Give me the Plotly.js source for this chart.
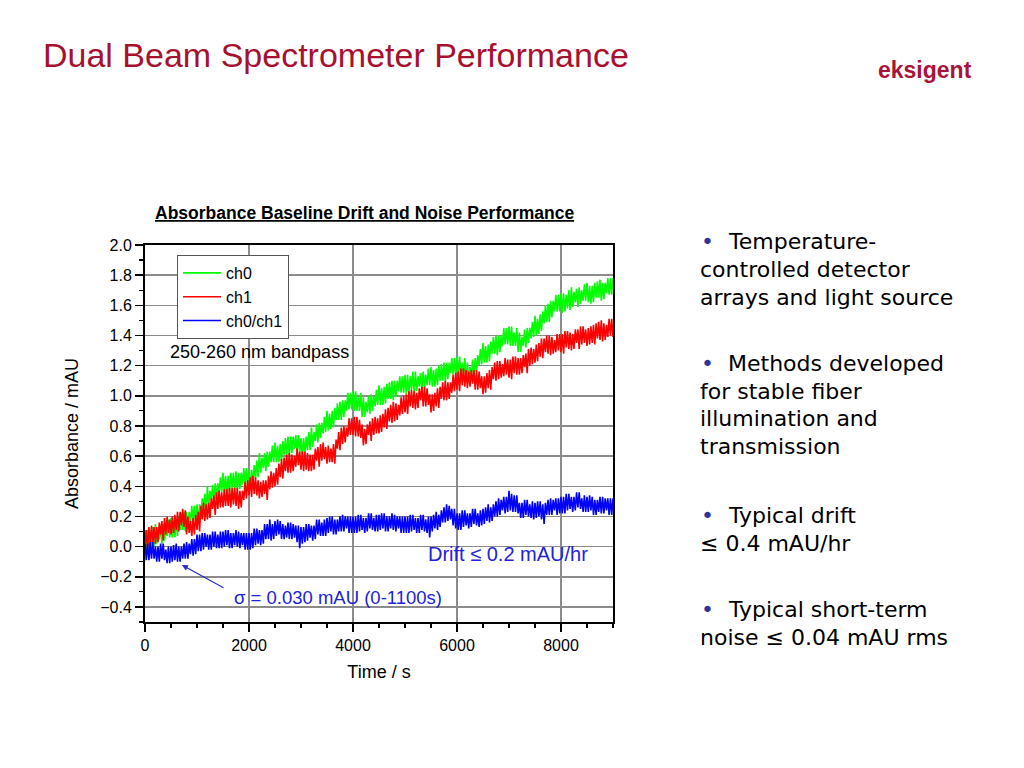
<!DOCTYPE html>
<html>
<head>
<meta charset="utf-8">
<script src="https://cdn.plot.ly/plotly-3.0.1.min.js"></script>
<style>html,body{margin:0;padding:0;background:#fff;}#chart{width:1024px;height:768px;}</style>
</head>
<body>
<div id="chart"></div>
<script>
// ---- Data, one sample every 25 s from t = 0 s ----
const seriesNames = ['ch0', 'ch1', 'ch0/ch1'];
const timeStartSec = 0;
const sampleStepSec = 25;

const ch0 = [
 0.11,-0.02,0.11,0.00, 0.10,0.01,0.13,0.00, 0.15,0.02,0.12,0.05, 0.14,0.02,0.15,0.04, 0.14,0.07,0.18,0.06,
 0.19,0.06,0.17,0.06, 0.18,0.07,0.20,0.11, 0.22,0.11,0.23,0.10, 0.23,0.12,0.23,0.16, 0.27,0.16,0.27,0.16,
 0.28,0.15,0.28,0.19, 0.32,0.23,0.35,0.23, 0.40,0.27,0.37,0.31, 0.41,0.29,0.42,0.32, 0.42,0.35,0.46,0.36,
 0.49,0.36,0.47,0.35, 0.47,0.36,0.49,0.39, 0.49,0.38,0.50,0.37, 0.49,0.38,0.49,0.41, 0.52,0.41,0.52,0.40,
 0.51,0.38,0.51,0.42, 0.54,0.45,0.57,0.46, 0.62,0.49,0.59,0.52, 0.62,0.50,0.63,0.53, 0.63,0.56,0.67,0.56,
 0.69,0.56,0.67,0.56, 0.68,0.57,0.70,0.61, 0.72,0.61,0.73,0.60, 0.73,0.62,0.73,0.65, 0.74,0.63,0.74,0.62,
 0.72,0.59,0.72,0.62, 0.73,0.64,0.76,0.64, 0.79,0.66,0.76,0.70, 0.81,0.69,0.82,0.72, 0.82,0.75,0.86,0.76,
 0.90,0.77,0.88,0.78, 0.90,0.79,0.92,0.84, 0.95,0.84,0.96,0.84, 0.97,0.86,0.97,0.90, 1.02,0.91,1.02,0.91,
 1.03,0.90,1.03,0.90, 0.99,0.90,1.02,0.86, 0.99,0.86,0.96,0.89, 1.00,0.88,1.01,0.90, 1.00,0.93,1.04,0.94,
 1.07,0.94,1.05,0.94, 1.06,0.95,1.08,0.98, 1.09,0.98,1.10,0.97, 1.10,0.99,1.10,1.03, 1.13,1.02,1.13,1.02,
 1.14,1.01,1.14,1.02, 1.13,1.04,1.16,1.02, 1.16,1.03,1.13,1.06, 1.15,1.03,1.16,1.05, 1.14,1.07,1.18,1.07,
 1.19,1.06,1.17,1.06, 1.18,1.07,1.20,1.10, 1.21,1.10,1.22,1.09, 1.22,1.11,1.22,1.15, 1.25,1.14,1.25,1.14,
 1.26,1.13,1.26,1.13, 1.22,1.13,1.25,1.09, 1.22,1.09,1.19,1.13, 1.24,1.12,1.25,1.16, 1.27,1.20,1.31,1.21,
 1.35,1.22,1.33,1.22, 1.34,1.23,1.36,1.28, 1.39,1.28,1.40,1.27, 1.40,1.29,1.40,1.33, 1.45,1.34,1.45,1.34,
 1.46,1.33,1.46,1.33, 1.42,1.33,1.45,1.29, 1.42,1.29,1.39,1.33, 1.44,1.32,1.45,1.35, 1.45,1.38,1.49,1.39,
 1.53,1.40,1.51,1.41, 1.54,1.43,1.56,1.48, 1.60,1.49,1.61,1.49, 1.63,1.52,1.63,1.56, 1.67,1.56,1.67,1.56,
 1.68,1.55,1.68,1.56, 1.67,1.58,1.70,1.57, 1.72,1.59,1.69,1.62, 1.71,1.59,1.72,1.61, 1.70,1.63,1.74,1.63,
 1.75,1.62,1.73,1.61, 1.73,1.62,1.75,1.65, 1.76,1.65,1.77,1.63, 1.75,1.64,1.75,1.68, 1.78,1.67,1.78,1.67,
 1.78];

const ch1 = [
 -0.01,0.11,-0.02,0.13, 0.03,0.14,0.02,0.13, 0.02,0.13,0.03,0.16, 0.08,0.17,0.04,0.19, 0.08,0.20,0.09,0.18,
 0.08,0.20,0.09,0.21, 0.11,0.23,0.10,0.23, 0.14,0.25,0.13,0.24, 0.08,0.20,0.09,0.17, 0.07,0.19,0.08,0.21,
 0.11,0.23,0.10,0.27, 0.18,0.29,0.17,0.28, 0.18,0.29,0.19,0.32, 0.25,0.34,0.21,0.36, 0.25,0.37,0.26,0.36,
 0.26,0.38,0.27,0.38, 0.27,0.39,0.26,0.39, 0.28,0.39,0.27,0.39, 0.25,0.37,0.26,0.37, 0.31,0.43,0.32,0.44,
 0.34,0.46,0.33,0.47, 0.35,0.46,0.34,0.44, 0.32,0.43,0.33,0.44, 0.35,0.44,0.31,0.47, 0.38,0.50,0.39,0.49,
 0.40,0.52,0.41,0.55, 0.46,0.58,0.45,0.59, 0.50,0.61,0.49,0.62, 0.49,0.61,0.50,0.60, 0.53,0.65,0.54,0.63,
 0.51,0.63,0.50,0.63, 0.51,0.62,0.50,0.61, 0.50,0.61,0.51,0.65, 0.57,0.66,0.53,0.68, 0.57,0.69,0.58,0.66,
 0.55,0.67,0.56,0.65, 0.56,0.68,0.55,0.71, 0.65,0.76,0.64,0.79, 0.68,0.80,0.69,0.79, 0.73,0.85,0.74,0.85,
 0.74,0.86,0.73,0.86, 0.73,0.84,0.72,0.81, 0.67,0.78,0.68,0.81, 0.74,0.83,0.70,0.85, 0.74,0.86,0.75,0.85,
 0.75,0.87,0.76,0.88, 0.79,0.91,0.78,0.92, 0.83,0.94,0.82,0.96, 0.83,0.95,0.84,0.94, 0.87,0.99,0.88,1.00,
 0.89,1.01,0.88,1.03, 0.93,1.04,0.92,1.03, 0.91,1.02,0.92,1.05, 0.97,1.06,0.93,1.06, 0.93,1.05,0.94,1.01,
 0.89,1.01,0.90,1.02, 0.93,1.05,0.92,1.06, 0.98,1.09,0.97,1.10, 0.97,1.09,0.98,1.09, 1.02,1.14,1.03,1.15,
 1.04,1.16,1.03,1.18, 1.07,1.18,1.06,1.17, 1.05,1.16,1.06,1.17, 1.08,1.17,1.04,1.17, 1.04,1.16,1.05,1.13,
 1.01,1.13,1.02,1.15, 1.05,1.17,1.04,1.19, 1.11,1.22,1.10,1.23, 1.11,1.23,1.12,1.21, 1.13,1.25,1.14,1.24,
 1.12,1.24,1.11,1.26, 1.15,1.26,1.14,1.25, 1.14,1.25,1.15,1.27, 1.19,1.28,1.15,1.31, 1.20,1.32,1.21,1.31,
 1.22,1.34,1.23,1.35, 1.26,1.38,1.25,1.38, 1.29,1.40,1.28,1.40, 1.27,1.39,1.28,1.37, 1.29,1.41,1.30,1.41,
 1.29,1.41,1.28,1.43, 1.32,1.43,1.31,1.42, 1.30,1.41,1.31,1.44, 1.35,1.44,1.31,1.46, 1.34,1.46,1.35,1.44,
 1.33,1.45,1.34,1.46, 1.35,1.47,1.34,1.48, 1.38,1.49,1.37,1.50, 1.36,1.48,1.37,1.47, 1.39,1.51,1.40,1.51,
 1.39];

const ratio = [
 0.02,-0.09,0.02,-0.09, 0.03,-0.08,0.03,-0.08, 0.00,-0.10,0.00,-0.10, 0.02,-0.08,0.02,-0.09, -0.02,-0.11,0.00,-0.11,
 0.00,-0.10,0.01,-0.09, 0.02,-0.10,0.00,-0.10, 0.00,-0.08,0.02,-0.08, 0.03,-0.08,0.02,-0.05, 0.05,-0.06,0.05,-0.05,
 0.08,-0.03,0.08,-0.03, 0.09,-0.02,0.09,0.00, 0.08,-0.02,0.08,-0.02, 0.10,0.00,0.10,-0.01, 0.08,-0.01,0.10,-0.01,
 0.10,0.00,0.11,0.01, 0.11,-0.01,0.09,-0.01, 0.09,0.01,0.11,0.00, 0.10,-0.01,0.09,0.01, 0.09,-0.02,0.09,-0.02,
 0.09,-0.02,0.09,-0.01, 0.12,0.01,0.12,0.02, 0.11,0.01,0.11,0.02, 0.15,0.05,0.15,0.05, 0.18,0.04,0.15,0.05,
 0.17,0.07,0.18,0.08, 0.17,0.05,0.15,0.05, 0.14,0.06,0.16,0.05, 0.16,0.05,0.15,0.06, 0.14,0.03,0.14,-0.01,
 0.13,0.02,0.13,0.03, 0.15,0.04,0.15,0.06, 0.14,0.04,0.14,0.05, 0.18,0.08,0.18,0.07, 0.16,0.07,0.18,0.07,
 0.19,0.09,0.20,0.10, 0.20,0.08,0.18,0.08, 0.18,0.10,0.20,0.10, 0.21,0.10,0.20,0.12, 0.20,0.09,0.20,0.09,
 0.20,0.09,0.20,0.09, 0.21,0.10,0.21,0.11, 0.19,0.09,0.19,0.10, 0.22,0.12,0.22,0.11, 0.19,0.10,0.21,0.10,
 0.21,0.11,0.22,0.12, 0.22,0.10,0.20,0.10, 0.20,0.12,0.22,0.11, 0.21,0.10,0.20,0.12, 0.20,0.09,0.20,0.09,
 0.20,0.09,0.20,0.09, 0.21,0.10,0.21,0.11, 0.19,0.09,0.19,0.09, 0.21,0.11,0.21,0.10, 0.18,0.09,0.20,0.06,
 0.20,0.10,0.21,0.12, 0.23,0.11,0.21,0.13, 0.24,0.16,0.26,0.16, 0.28,0.17,0.27,0.18, 0.25,0.14,0.25,0.12,
 0.22,0.11,0.22,0.11, 0.24,0.13,0.24,0.14, 0.22,0.12,0.22,0.13, 0.25,0.15,0.25,0.14, 0.22,0.13,0.24,0.14,
 0.25,0.15,0.26,0.17, 0.28,0.16,0.26,0.17, 0.28,0.20,0.30,0.20, 0.32,0.21,0.31,0.24, 0.33,0.22,0.33,0.23,
 0.37,0.24,0.35,0.23, 0.34,0.23,0.34,0.22, 0.29,0.19,0.29,0.19, 0.31,0.21,0.31,0.20, 0.28,0.19,0.30,0.18,
 0.29,0.19,0.30,0.20, 0.30,0.18,0.28,0.15, 0.29,0.21,0.31,0.21, 0.32,0.21,0.31,0.24, 0.32,0.21,0.32,0.22,
 0.33,0.22,0.33,0.22, 0.35,0.24,0.35,0.25, 0.33,0.23,0.33,0.24, 0.36,0.26,0.36,0.25, 0.32,0.23,0.34,0.23,
 0.33,0.23,0.34,0.24, 0.33,0.21,0.31,0.21, 0.31,0.23,0.33,0.22, 0.33,0.22,0.32,0.24, 0.32,0.21,0.32,0.21,
 0.32];

const pageTitle = 'Dual Beam Spectrometer Performance';
const chartTitle = 'Absorbance Baseline Drift and Noise Performance';
const logoText = 'eksigent';
const bandText = '250-260 nm bandpass';
const driftText = 'Drift \u2264 0.2 mAU/hr';
const sigmaText = '\u03c3 = 0.030 mAU (0-1100s)';
const bullets = [
  ['Temperature-', 'controlled detector', 'arrays and light source'],
  ['Methods developed', 'for stable fiber', 'illumination and', 'transmission'],
  ['Typical drift', '\u2264 0.4 mAU/hr'],
  ['Typical short-term', 'noise \u2264 0.04 mAU rms']
];

// ---- Layout helpers (pixel -> paper) ----
const L = 145, T = 245, W = 468, H = 377;
const px = x => (x - L) / W;
const py = y => 1 - (y - T) / H;
const FONT = 'Liberation Sans, Arial, Helvetica, sans-serif';
const BFONT = 'DejaVu Sans, Verdana, sans-serif';
const BLUE_TXT = '#2222dd';

const traces = [
  {name: seriesNames[0], y: ch0, x0: timeStartSec, dx: sampleStepSec, type: 'scatter', mode: 'lines', line: {color: '#00ff00', width: 1.6}},
  {name: seriesNames[1], y: ch1, x0: timeStartSec, dx: sampleStepSec, type: 'scatter', mode: 'lines', line: {color: '#ff0000', width: 1.6}},
  {name: seriesNames[2], y: ratio, x0: timeStartSec, dx: sampleStepSec, type: 'scatter', mode: 'lines', line: {color: '#0000ff', width: 1.6}}
];

const ann = (o) => Object.assign({xref: 'paper', yref: 'paper', xanchor: 'center', yanchor: 'middle', showarrow: false}, o);

const annotations = [
  ann({x: px(364), y: py(213), text: '<b><u>' + chartTitle + '</u></b>', font: {family: FONT, size: 17.5, color: '#000'}}),
  ann({x: px(925), y: py(70), text: '<b>' + logoText + '</b>', font: {family: FONT, size: 23, color: '#a8143a'}}),
  ann({x: px(168), y: py(352), xanchor: 'left', text: bandText, font: {family: FONT, size: 18, color: '#000'}}),
  ann({xref: 'x', yref: 'y', x: 6975, y: -0.05, text: driftText, font: {family: FONT, size: 20, color: BLUE_TXT}}),
  ann({xref: 'x', yref: 'y', x: 3720, y: -0.335, text: sigmaText, font: {family: FONT, size: 18.5, color: BLUE_TXT}}),
  {xref: 'x', yref: 'y', x: 710, y: -0.122, axref: 'x', ayref: 'y', ax: 1538, ay: -0.278, text: '', showarrow: true, arrowhead: 2, arrowsize: 1, arrowwidth: 1.2, arrowcolor: '#2a2ac8'}
];

const bulletLineY = [[241, 269, 297], [363, 391, 418, 446], [515, 543], [609, 637]];
bullets.forEach((lines, bi) => {
  annotations.push(ann({x: px(707), y: py(bulletLineY[bi][0]), text: '\u2022', font: {family: BFONT, size: 22, color: '#333399'}}));
  lines.forEach((ln, li) => {
    annotations.push(ann({xanchor: 'left', x: px(li === 0 ? 726 : 698), y: py(bulletLineY[bi][li]), text: ln, font: {family: BFONT, size: 22, color: '#000'}}));
  });
});

const axisCommon = {
  showline: true, linewidth: 2, linecolor: '#000', mirror: true,
  ticks: 'outside', ticklen: 8, tickwidth: 1.5, tickcolor: '#000',
  showgrid: true, gridcolor: '#8c8c8c', gridwidth: 1.5, zeroline: false,
  tickfont: {family: FONT, size: 16, color: '#000'}
};

const layout = {
  width: 1024, height: 768,
  margin: {l: L, r: 1024 - L - W, t: T, b: 768 - T - H},
  paper_bgcolor: '#fff', plot_bgcolor: '#fff',
  font: {family: FONT, color: '#000'},
  title: {text: pageTitle, x: 43 / 1024, xanchor: 'left', y: 1 - 55 / 768, yanchor: 'middle', font: {family: FONT, size: 34, color: '#a8102f'}},
  xaxis: Object.assign({}, axisCommon, {
    range: [0, 9000], tick0: 0, dtick: 2000,
    minor: {dtick: 500, ticks: 'outside', ticklen: 4, tickwidth: 1.2, tickcolor: '#000', showgrid: false},
    title: {text: 'Time / s', standoff: 12, font: {family: FONT, size: 18, color: '#000'}}
  }),
  yaxis: Object.assign({}, axisCommon, {
    range: [-0.5, 2.0], tick0: 0, dtick: 0.2, tickformat: '.1f',
    minor: {dtick: 0.1, ticks: 'outside', ticklen: 4, tickwidth: 1.2, tickcolor: '#000', showgrid: false},
    title: {text: 'Absorbance / mAU', standoff: 17, font: {family: FONT, size: 18, color: '#000'}}
  }),
  showlegend: true,
  legend: {x: px(177), y: py(255), xanchor: 'left', yanchor: 'top', bgcolor: '#fff', bordercolor: '#555', borderwidth: 1,
    font: {family: FONT, size: 16, color: '#000'}, itemwidth: 38, tracegroupgap: 0},
  annotations: annotations
};

Plotly.newPlot('chart', traces, layout, {staticPlot: true, displayModeBar: false});
</script>
</body>
</html>
